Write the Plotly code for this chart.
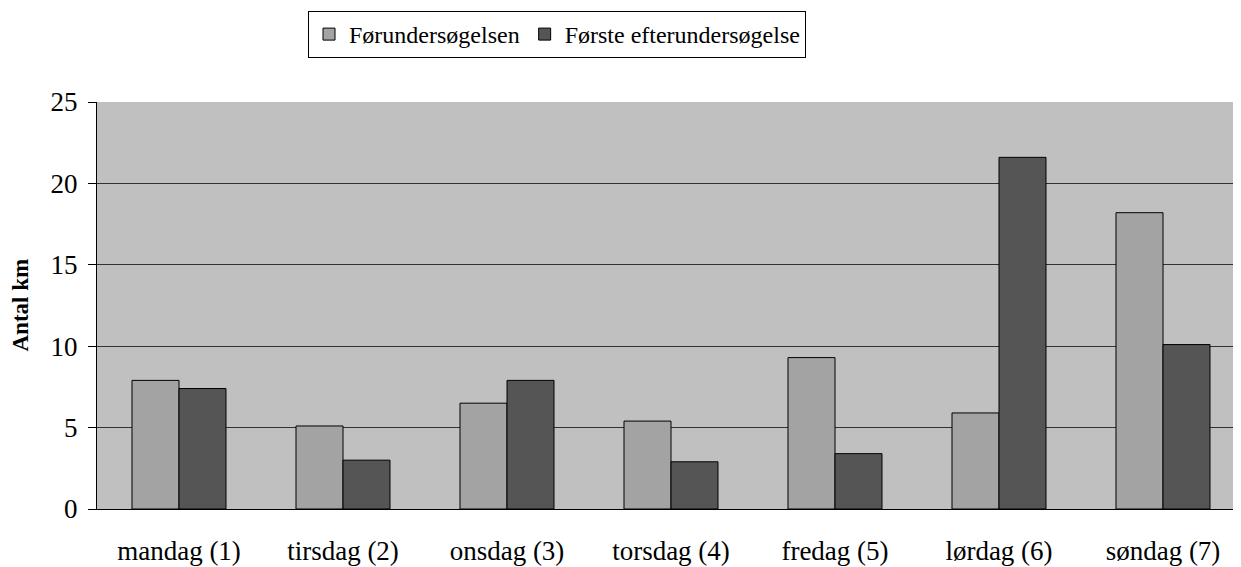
import plotly.graph_objects as go

categories = ["mandag (1)", "tirsdag (2)", "onsdag (3)", "torsdag (4)", "fredag (5)", "lørdag (6)", "søndag (7)"]
foerundersoegelsen = [7.9, 5.1, 6.5, 5.4, 9.3, 5.9, 18.2]
foerste_efter = [7.4, 3.0, 7.9, 2.9, 3.4, 21.6, 10.1]
series_names = ["Førundersøgelsen", "Første efterundersøgelse"]
y_ticks = [0, 5, 10, 15, 20, 25]

font = "Liberation Serif"
W, H = 1241, 567
L, R, T, B = 89, 4, 94, 66
plot_w = W - L - R

fig = go.Figure()
fig.add_trace(go.Bar(x=list(range(len(categories))), y=foerundersoegelsen, name=series_names[0],
                     marker=dict(color="#A3A3A3", line=dict(color="#000000", width=1))))
fig.add_trace(go.Bar(x=list(range(len(categories))), y=foerste_efter, name=series_names[1],
                     marker=dict(color="#555555", line=dict(color="#000000", width=1))))

fig.update_layout(
    width=W, height=H,
    margin=dict(l=L, r=R, t=T, b=B),
    paper_bgcolor="white", plot_bgcolor="#C0C0C0",
    barmode="group", bargap=0.427, bargroupgap=0,
    font=dict(family=font, size=27, color="black"),
    showlegend=True,
    legend=dict(orientation="h", x=300 / W, xanchor="left", xref="container",
                y=1 - 3 / H, yanchor="top", yref="container",
                bordercolor="black", borderwidth=1, bgcolor="white",
                font=dict(size=24), traceorder="normal",
                itemwidth=30, tracegroupgap=0),
    xaxis=dict(tickmode="array", tickvals=list(range(len(categories))), ticktext=categories,
               range=[-0.5, 6.5], showgrid=False, showline=True, linecolor="black", linewidth=1,
               ticks="", tickfont=dict(size=27), zeroline=False, fixedrange=True,
               automargin=False, ticklabelstandoff=18),
    yaxis=dict(range=[0, 25], tickvals=y_ticks, showgrid=True, gridcolor="#333333", gridwidth=1.3,
               showline=True, linecolor="black", linewidth=1, ticks="outside", ticklen=8,
               tickcolor="black", tickfont=dict(size=27), zeroline=False, automargin=False,
               ticklabelstandoff=5),
    annotations=[dict(text="<b>Antal km</b>", x=(12 - L) / plot_w, xref="paper", xanchor="center",
                      y=0.5, yref="paper", yanchor="middle",
                      textangle=-90, showarrow=False, font=dict(size=23))],
)
fig.write_html("out.html")
